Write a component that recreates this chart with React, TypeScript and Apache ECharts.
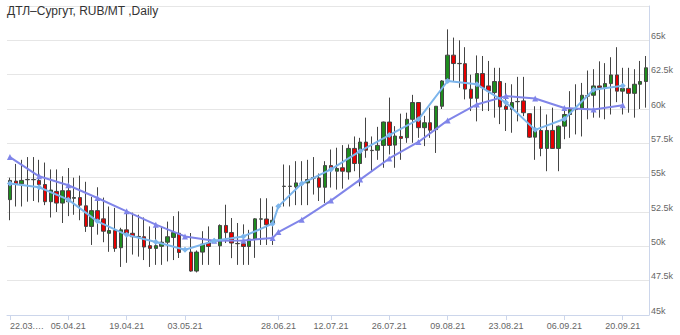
import React, { useEffect, useRef } from "react";
import * as echarts from "echarts";

const TITLE = "ДТЛ–Сургут, RUB/MT ,Daily";

const dates = [
  "22.03.21", "23.03.21", "24.03.21", "25.03.21", "26.03.21",
  "29.03.21", "30.03.21", "31.03.21", "01.04.21", "02.04.21",
  "05.04.21", "06.04.21", "07.04.21", "08.04.21", "09.04.21",
  "12.04.21", "13.04.21", "14.04.21", "15.04.21", "16.04.21",
  "19.04.21", "20.04.21", "21.04.21", "22.04.21", "23.04.21",
  "26.04.21", "27.04.21", "28.04.21", "29.04.21", "30.04.21",
  "03.05.21", "04.05.21", "05.05.21", "06.05.21", "07.05.21",
  "10.05.21", "11.05.21", "12.05.21", "13.05.21", "14.05.21",
  "17.05.21", "18.05.21", "19.05.21", "20.05.21", "21.05.21",
  "24.05.21",
  "28.06.21", "29.06.21", "30.06.21", "01.07.21",
  "05.07.21", "06.07.21", "07.07.21", "08.07.21", "09.07.21",
  "12.07.21", "13.07.21", "14.07.21", "15.07.21", "16.07.21",
  "19.07.21", "20.07.21", "21.07.21", "22.07.21", "23.07.21",
  "26.07.21", "27.07.21", "28.07.21", "29.07.21", "30.07.21",
  "02.08.21", "03.08.21", "04.08.21", "05.08.21", "06.08.21",
  "09.08.21", "10.08.21", "11.08.21", "12.08.21", "13.08.21",
  "16.08.21", "17.08.21", "18.08.21", "19.08.21", "20.08.21",
  "23.08.21", "24.08.21", "25.08.21", "26.08.21", "27.08.21",
  "30.08.21", "31.08.21", "01.09.21", "02.09.21", "03.09.21",
  "06.09.21", "07.09.21", "08.09.21", "09.09.21", "10.09.21",
  "13.09.21", "14.09.21", "15.09.21", "16.09.21", "17.09.21",
  "20.09.21", "21.09.21", "22.09.21", "23.09.21", "24.09.21",
];

const tickLabels = [
  "22.03.21", "05.04.21", "19.04.21", "03.05.21", "28.06.21", "12.07.21",
  "26.07.21", "09.08.21", "23.08.21", "06.09.21", "20.09.21",
];

// [open, close, low, high]; "-" = no trade that day
const ohlc: (number | string)[][] = [
  [53400, 54800, 51900, 55000],
  [54750, 54550, 52900, 56000],
  [54550, 54800, 52900, 56300],
  [54850, 54870, 53250, 56500],
  [54870, 54850, 53300, 56500],
  [54800, 54500, 53200, 56300],
  [54500, 53250, 53000, 56100],
  [53250, 54100, 52100, 55600],
  [54000, 53150, 52500, 55600],
  [53150, 54050, 51700, 55100],
  [54050, 53250, 52200, 55700],
  [53500, 53550, 52300, 55000],
  [53550, 53000, 51900, 55150],
  [52950, 51450, 51050, 54700],
  [51450, 52600, 50100, 53600],
  [52600, 51950, 50850, 54300],
  [52000, 51100, 50300, 53550],
  [50950, 51150, 49600, 52900],
  [51150, 49850, 49600, 52800],
  [49900, 51200, 48500, 51350],
  [51200, 50950, 48800, 52550],
  [50950, 50700, 49400, 52450],
  [50720, 50700, 49250, 52300],
  [50700, 49950, 49000, 52100],
  [50050, 49850, 48500, 51450],
  [49850, 50050, 48650, 51700],
  [50000, 50300, 48650, 51450],
  [50300, 50700, 48900, 51800],
  [50650, 51000, 49000, 52200],
  [50950, 49550, 49150, 52550],
  ["-", "-", "-", "-"],
  [49580, 48200, 48150, 50970],
  [48200, 49580, 48100, 49700],
  [49580, 50160, 48650, 51100],
  [50240, 49990, 48650, 51450],
  ["-", "-", "-", "-"],
  [50040, 51520, 48650, 51600],
  [51520, 51000, 50240, 53030],
  [51000, 50240, 49140, 52060],
  [50190, 50210, 48650, 51700],
  [50190, 49990, 48650, 51600],
  [49990, 50530, 48650, 51200],
  [50530, 52000, 49160, 52050],
  [51980, 52000, 50100, 53500],
  [51990, 51570, 50100, 53500],
  [51700, 51900, 50100, 52900],
  ["-", "-", "-", "-"],
  [54360, 54380, 52900, 55960],
  [54360, 54380, 52900, 55900],
  [54330, 54620, 53000, 56200],
  [54550, 54570, 53000, 56200],
  [54620, 54860, 53000, 56300],
  [54970, 54990, 53770, 56500],
  [54980, 54300, 53300, 55300],
  [54300, 55880, 53160, 56200],
  [55880, 55670, 54280, 57050],
  [55470, 55670, 54130, 57180],
  [55720, 55470, 54200, 57370],
  [55420, 57130, 54860, 57420],
  [57130, 56030, 55470, 58000],
  [56030, 57590, 54370, 57900],
  [57590, 57000, 56450, 59370],
  [56970, 56990, 55500, 58000],
  [57000, 57350, 56300, 58700],
  [57350, 59050, 55720, 59080],
  [59050, 57350, 56690, 60830],
  [57370, 58030, 55720, 58750],
  [58000, 57860, 56300, 59660],
  [57910, 59250, 57540, 59730],
  [59250, 60470, 57540, 61030],
  [60470, 58640, 57900, 60500],
  [58640, 59000, 57300, 59500],
  [59000, 58460, 57900, 60100],
  [58500, 60200, 56800, 60200],
  [60200, 62040, 60000, 62100],
  [62170, 63920, 62040, 65800],
  [63920, 63310, 62040, 65200],
  [63300, 63320, 61550, 65000],
  [63300, 61450, 60700, 64500],
  [61440, 60780, 59850, 62500],
  [60780, 62580, 59100, 63900],
  [62580, 61560, 59850, 63860],
  [61680, 61320, 59850, 63500],
  [61200, 62000, 59370, 63000],
  [62000, 60150, 58900, 63000],
  [60200, 59970, 58400, 61900],
  [59970, 60470, 58270, 61800],
  [60530, 60550, 59100, 62340],
  [60590, 59730, 59480, 62340],
  [59660, 57950, 57900, 59660],
  [57950, 58390, 56300, 60200],
  [58440, 57130, 56560, 60200],
  [57130, 58440, 55470, 59600],
  [58440, 57130, 57100, 60100],
  [57130, 58750, 55470, 58800],
  [58750, 59600, 57800, 60100],
  [59600, 59970, 57900, 61300],
  [59960, 59980, 58150, 61800],
  [60050, 61000, 58000, 61900],
  [60940, 60960, 59250, 62800],
  [61000, 61680, 59370, 62900],
  [61680, 61560, 59370, 63470],
  [61560, 61850, 59250, 63340],
  [61850, 62480, 59600, 63770],
  [62480, 61300, 60500, 64500],
  [61300, 61500, 59600, 63000],
  [61500, 61140, 59730, 63000],
  [61140, 61800, 59370, 62900],
  [61800, 62000, 60000, 63500],
  [62000, 63000, 60100, 63860],
];

// weekly averages (light blue)
const avgFast: [string, number][] = [
  ["22.03.21", 54570], ["29.03.21", 54300], ["05.04.21", 53400], ["12.04.21", 51820],
  ["19.04.21", 50840], ["26.04.21", 50310], ["03.05.21", 49750], ["10.05.21", 50400],
  ["17.05.21", 50720], ["24.05.21", 51650], ["28.06.21", 52910], ["05.07.21", 54570],
  ["12.07.21", 55600], ["19.07.21", 56930], ["26.07.21", 58100], ["02.08.21", 59250],
  ["09.08.21", 62040], ["16.08.21", 61800], ["23.08.21", 60470], ["30.08.21", 58480],
  ["06.09.21", 59270], ["13.09.21", 61400], ["20.09.21", 61700],
];

// slower averages (purple)
const avgSlow: [string, number][] = [
  ["22.03.21", 56500], ["29.03.21", 55100], ["05.04.21", 54450], ["12.04.21", 53520],
  ["19.04.21", 52550], ["26.04.21", 51580], ["03.05.21", 50720], ["10.05.21", 50400],
  ["17.05.21", 50430], ["24.05.21", 50600], ["28.06.21", 51040], ["05.07.21", 51940],
  ["12.07.21", 53330], ["19.07.21", 54860], ["26.07.21", 56400], ["02.08.21", 57600],
  ["09.08.21", 59170], ["16.08.21", 60330], ["23.08.21", 60940], ["30.08.21", 60760],
  ["06.09.21", 60070], ["13.09.21", 59970], ["20.09.21", 60270],
];

const FONT = "'Liberation Sans', Arial, sans-serif";

export default function App() {
  const ref = useRef<HTMLDivElement>(null);

  useEffect(() => {
    if (!ref.current) return;
    const chart = echarts.init(ref.current, undefined, { renderer: "svg" });
    const tickSet = new Set(tickLabels);
    const showAt = (_i: number, v: string) => tickSet.has(v);

    chart.setOption({
      animation: false,
      title: {
        text: TITLE,
        left: 7,
        top: 5,
        padding: 0,
        textStyle: { fontSize: 12, fontWeight: "normal", color: "#333", fontFamily: FONT },
      },
      grid: { left: 7, right: 31, top: 6, bottom: 20, containLabel: false },
      xAxis: {
        type: "category",
        data: dates,
        boundaryGap: true,
        axisLine: { show: true, lineStyle: { color: "#ccd6eb", width: 1 } },
        axisTick: {
          show: true,
          alignWithLabel: true,
          interval: showAt,
          length: 5,
          lineStyle: { color: "#ccd6eb" },
        },
        axisLabel: {
          interval: showAt,
          formatter: (v: string, i: number) => (i === 0 ? "22.03.…" : v),
          color: "#666",
          fontSize: 9,
          fontFamily: FONT,
          margin: 6,
          alignMinLabel: "left",
        },
        splitLine: { show: false },
      },
      yAxis: {
        type: "value",
        position: "right",
        min: 45000,
        max: 67500,
        interval: 2500,
        axisLine: { show: true, lineStyle: { color: "#ccd6eb", width: 1 } },
        axisTick: { show: false },
        splitLine: { show: true, lineStyle: { color: "#e6e6e6", width: 1 } },
        axisLabel: {
          formatter: (v: number) => (v === 67500 ? "" : v / 1000 + "k"),
          color: "#666",
          fontSize: 9,
          fontFamily: FONT,
          margin: 2,
          verticalAlign: "bottom",
        },
      },
      series: [
        {
          type: "candlestick",
          data: ohlc,
          barWidth: 4,
          itemStyle: {
            color: "#1e8c1e",
            color0: "#e60000",
            borderColor: "#444",
            borderColor0: "#444",
            borderWidth: 1,
          },
        },
        {
          type: "line",
          data: avgFast,
          symbol: "diamond",
          symbolSize: 6,
          showSymbol: true,
          showAllSymbol: true,
          lineStyle: { color: "#7cb5ec", width: 2 },
          itemStyle: { color: "#7cb5ec" },
          z: 5,
        },
        {
          type: "line",
          data: avgSlow,
          symbol: "triangle",
          symbolSize: 6,
          showSymbol: true,
          showAllSymbol: true,
          lineStyle: { color: "#8085e9", width: 2 },
          itemStyle: { color: "#8085e9" },
          z: 4,
        },
      ],
    });
    return () => chart.dispose();
  }, []);

  return (
    <div
      ref={ref}
      style={{ position: "fixed", left: 0, top: 0, width: 680, height: 335, background: "#fff" }}
    />
  );
}
